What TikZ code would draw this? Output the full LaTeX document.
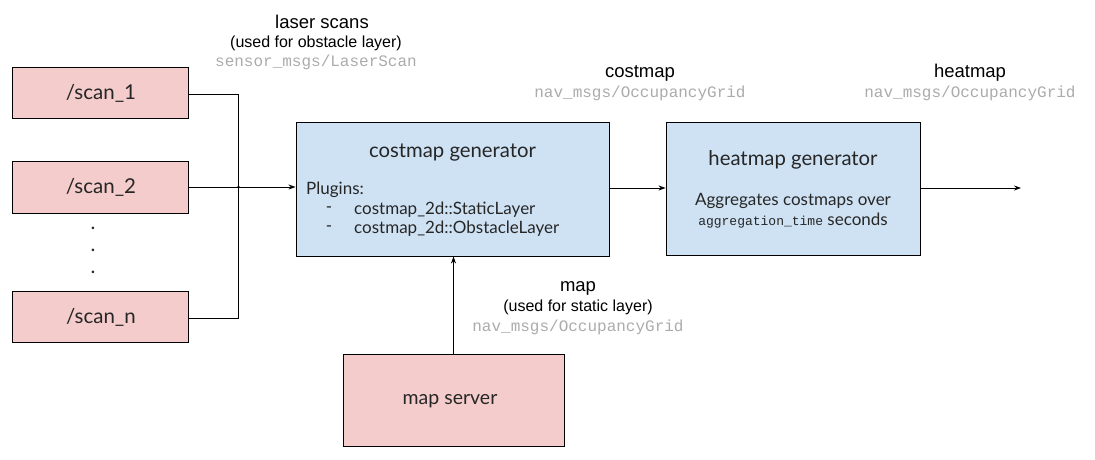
\documentclass[tikz,border=0pt]{standalone}
\usepackage{fontspec}
\setmainfont{Liberation Sans}
\newfontfamily\boxfont{Lato}
\newfontfamily\monofont{Liberation Mono}
\usetikzlibrary{arrows.meta}
\definecolor{pinkfill}{HTML}{F4CCCC}
\definecolor{bluefill}{HTML}{CFE2F3}
\definecolor{graytext}{HTML}{ABABAB}
\tikzset{
  pinkbox/.style={draw=black, line width=0.9pt, fill=pinkfill, inner sep=0pt},
  bluebox/.style={draw=black, line width=0.9pt, fill=bluefill, inner sep=0pt},
  boxtext/.style={font=\boxfont\fontsize{20.5}{24}\selectfont, text=black!85, inner sep=0pt},
  plug/.style={boxtext, font=\boxfont\fontsize{17}{20}\selectfont},
  head/.style={boxtext, font=\boxfont\fontsize{20.3}{24}\selectfont},
  label/.style={font=\fontsize{16}{19}\selectfont, inner sep=0pt},
  title/.style={font=\fontsize{18.5}{22}\selectfont, inner sep=0pt},
  msg/.style={font=\monofont\fontsize{16}{19}\selectfont, text=graytext, inner sep=0pt},
  conn/.style={line width=0.8pt, draw=black},
  arr/.style={conn, -{Stealth[length=7pt,width=5pt]}},
}
\begin{document}
\begin{tikzpicture}[x=1pt,y=-1pt]
\useasboundingbox (0,0) rectangle (1095,459);
% boxes
\node[pinkbox, minimum width=176pt, minimum height=51pt] (s1) at (100,92.5) {};
\node[boxtext] at (101,93) {/scan\_1};
\node[pinkbox, minimum width=176pt, minimum height=52pt] (s2) at (100,187) {};
\node[boxtext] at (101,187) {/scan\_2};
\node[pinkbox, minimum width=176pt, minimum height=51pt] (sn) at (100,316.5) {};
\node[boxtext] at (101,317) {/scan\_n};
\node[boxtext] (d1) at (93,228) {.};
\node[boxtext] (d2) at (93,250) {.};
\node[boxtext] (d3) at (93,272) {.};

\node[bluebox, minimum width=313pt, minimum height=134pt] (cg) at (452.5,189) {};
\node[head] (cgt) at (452.5,153) {costmap generator};
\node[plug, anchor=west] (pl) at (306,190) {Plugins:};
\node[plug] (da) at (329,210) {-};
\node[plug, anchor=west] (p1) at (354,210) {costmap\_2d::StaticLayer};
\node[plug] (db) at (329,229) {-};
\node[plug, anchor=west] (p2) at (354,229) {costmap\_2d::ObstacleLayer};

\node[bluebox, minimum width=254pt, minimum height=133pt] (hg) at (793,188.5) {};
\node[head] (hgt) at (793,160) {heatmap generator};
\node[plug] (hg1) at (793,201) {Aggregates costmaps over};
\node[plug] (hg2) at (793,221) {{\monofont\fontsize{13}{15}\selectfont aggregation\_time} seconds};

\node[pinkbox, minimum width=221pt, minimum height=92pt] (ms) at (453.5,400) {};
\node[boxtext, font=\boxfont\fontsize{19.5}{23}\selectfont] at (450,401) {map server};

% labels
\node[title] (lt) at (322,22) {laser scans};
\node[label] (lu) at (316,43) {(used for obstacle layer)};
\node[msg] (lm) at (316,62) {sensor\_msgs/LaserScan};
\node[title] (ct) at (640,73) {costmap};
\node[msg] (cm) at (640,93) {nav\_msgs/OccupancyGrid};
\node[title] (ht) at (970,73) {heatmap};
\node[msg] (hm) at (970,93) {nav\_msgs/OccupancyGrid};
\node[title] (mt) at (578,288) {map};
\node[label] (mu) at (578,307) {(used for static layer)};
\node[msg] (mm) at (578,327) {nav\_msgs/OccupancyGrid};

% connectors
\coordinate (j) at (238.5,187);
\coordinate (out) at (1021,188);
\draw[conn] (s1.east |- 0,94) -| (j);
\draw[conn] (sn.east |- 0,318) -| (j);
\draw[arr] (s2.east) -- (cg.west |- j);
\fill (j) circle (1.5pt);
\draw[arr] (cg.east |- 0,188) -- (hg.west |- 0,188);
\draw[arr] (hg.east |- out) -- (out);
\draw[arr] (ms.north) -- (cg.south -| ms.north);
\end{tikzpicture}
\end{document}
